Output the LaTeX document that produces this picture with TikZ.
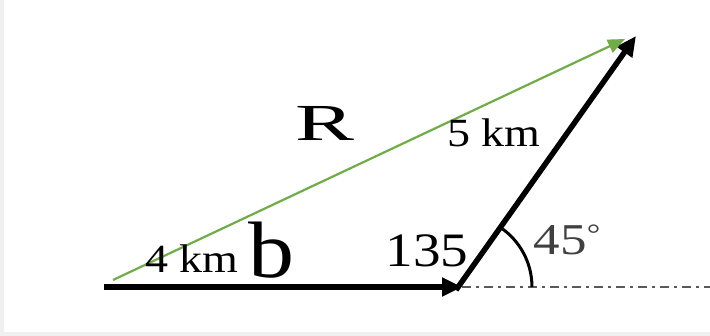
\documentclass[tikz,border=0pt]{standalone}
\usepackage{fontspec}
\setmainfont{Liberation Serif}
\usetikzlibrary{arrows.meta}
\definecolor{vgreen}{RGB}{112,173,71}
\definecolor{framegray}{RGB}{240,240,240}
\tikzset{
  vec/.style={line width=5.5pt,-{Triangle[length=20pt,width=18pt]}},
  res/.style={vgreen,line width=2.2pt,-{Triangle[length=17pt,width=14pt]}},
  lbl/.style={inner sep=0pt,anchor=base,font=\fontsize{40}{40}\selectfont,xscale=1.15}
}
\begin{document}
\begin{tikzpicture}[x=1pt,y=-1pt]
\fill[framegray] (0,0) rectangle (710,336);
\fill[white] (4,0) rectangle (710,332);
\useasboundingbox (0,0) rectangle (710,336);
\coordinate (A) at (104,287);
\coordinate (B) at (462,287);
\coordinate (B2) at (456,290);
\coordinate (C) at (636,36);
\coordinate (G1) at (113,280);
\coordinate (G2) at (625,39);
\coordinate (E) at (710,287);
\coordinate (O) at (460,287);
\draw[gray!70!black,line width=2.5pt,dash pattern=on 9pt off 5pt on 3pt off 5pt] (B) -- (E);
\draw[line width=3pt] ([xshift=72pt]O) arc[start angle=0,end angle=56,radius=72pt];
\draw[vec] (A) -- (B);
\draw[vec] (B2) -- (C);
\draw[res] (G1) -- (G2);
\node[inner sep=0pt,font=\fontsize{52}{52}\selectfont,xscale=1.7] (R) at (325,123) {R};
\node[lbl] (k5) at (494,147) {5 km};
\node[lbl] (k4) at (192,273) {4 km};
\node[lbl,font=\fontsize{80}{80}\selectfont,xscale=1] (b) at (271,278) {b};
\node[lbl,font=\fontsize{48}{48}\selectfont,xscale=1] (a135) at (427,267) {135};
\node[lbl,text=black!75,font=\fontsize{44}{44}\selectfont,xscale=1.05] (a45) at (567,255) {45\raisebox{11pt}{\fontsize{28}{28}\selectfont °}};
\end{tikzpicture}
\end{document}
